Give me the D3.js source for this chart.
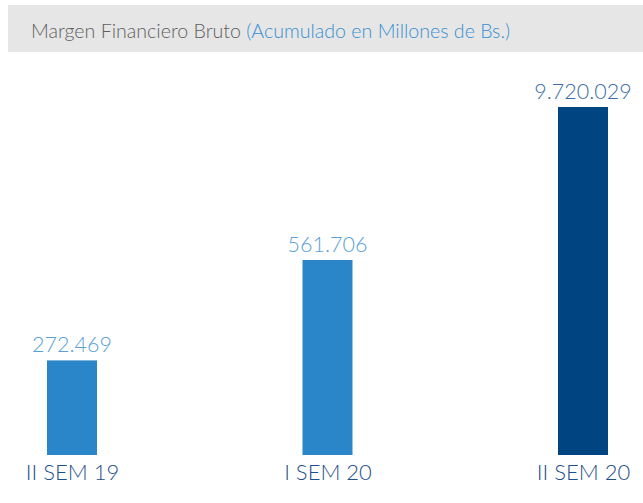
<!DOCTYPE html>
<html><head><meta charset="utf-8">
<script src="https://cdn.jsdelivr.net/npm/d3@7"></script>
<style>body{margin:0;background:#fff}</style>
</head><body>
<script>
const categories = ["II SEM 19", "I SEM 20", "II SEM 20"];
const values = [272469, 561706, 9720029];
const valueLabels = ["272.469", "561.706", "9.720.029"];
const barColors = ["#2a86c9", "#2a86c9", "#004481"];
const labelColors = ["#5a9fd6", "#5a9fd6", "#3b6ea5"];

const W = 643, H = 503;
const svg = d3.select("body").append("svg").attr("width", W).attr("height", H);

// header band
svg.append("rect").attr("x", 8).attr("y", 5).attr("width", W - 8).attr("height", 47).attr("fill", "#e6e6e6");
const t = svg.append("text").attr("x", 31).attr("y", 38)
  .attr("font-family", "Lato").attr("font-size", 19.6).attr("font-weight", 300);
t.append("tspan").attr("fill", "#5e5e5e").text("Margen Financiero Bruto ");
t.append("tspan").attr("fill", "#3a8fd0").text("(Acumulado en Millones de Bs.)");

const x = d3.scalePoint().domain(categories).range([72, 583]);
const y = d3.scaleLinear().domain([0, 561706, 9720029]).range([455, 260, 107]);
const bw = 50;

const g = svg.append("g");
g.selectAll("rect.bar").data(values).join("rect").attr("class", "bar")
  .attr("x", (d, i) => x(categories[i]) - bw / 2)
  .attr("y", d => y(d))
  .attr("width", bw)
  .attr("height", d => y(0) - y(d))
  .attr("fill", (d, i) => barColors[i]);

g.selectAll("text.val").data(values).join("text").attr("class", "val")
  .attr("x", (d, i) => x(categories[i]))
  .attr("y", d => y(d) - 8)
  .attr("text-anchor", "middle")
  .attr("font-family", "Lato").attr("font-weight", 300).attr("font-size", 21.5)
  .attr("fill", (d, i) => labelColors[i])
  .text((d, i) => valueLabels[i]);

const axis = d3.axisBottom(x).tickSize(0).tickPadding(0);
const ax = svg.append("g").attr("transform", "translate(0,480)").call(axis);
ax.select(".domain").remove();
ax.selectAll("text").attr("dy", 0).attr("font-family", "Lato").attr("font-weight", 300)
  .attr("font-size", 22).attr("fill", "#1f5089");
</script>
</body></html>
